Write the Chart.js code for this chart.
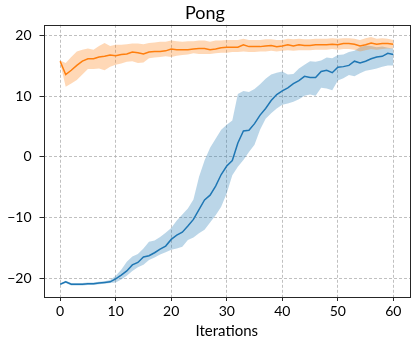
<!DOCTYPE html>
<html>
<head>
<meta charset="utf-8">
<script src="https://cdn.jsdelivr.net/npm/chart.js@4"></script>
<style>
  html, body { margin: 0; padding: 0; background: #fff; }
  #wrap { width: 414px; height: 339px; }
</style>
</head>
<body>
<div id="wrap"><canvas id="pongChart" width="414" height="339"></canvas></div>
<script>
const iterations = [0,1,2,3,4,5,6,7,8,9,10,11,12,13,14,15,16,17,18,19,20,21,22,23,24,25,26,27,28,29,30,
    31,32,33,34,35,36,37,38,39,40,41,42,43,44,45,46,47,48,49,50,51,52,53,54,55,56,57,58,59,60];

const blueMean = [-21.0,-20.6,-21.0,-21.0,-21.0,-20.9,-20.9,-20.8,-20.7,-20.6,-20.1,-19.5,-18.8,-17.8,-17.4,-16.5,
    -16.3,-15.8,-15.2,-14.7,-13.6,-12.9,-12.4,-11.4,-10.3,-8.7,-7.1,-6.3,-4.8,-2.9,-1.5,-0.6,2.3,4.3,4.4,5.5,
    6.9,8.0,9.3,10.3,10.9,11.4,12.1,12.6,13.3,13.1,13.1,14.1,14.3,13.9,14.8,14.9,15.1,15.8,15.5,15.8,16.2,16.5,16.6,17.1,16.9];
const blueUpper = [-20.9,-20.4,-20.8,-20.8,-20.8,-20.7,-20.7,-20.6,-20.5,-20.3,-19.6,-18.6,-17.3,-16.4,-16.0,-15.1,
    -14.0,-13.8,-13.2,-12.5,-11.7,-10.5,-9.5,-8.5,-7.0,-3.3,-0.6,1.5,3.0,4.5,5.3,6.0,10.4,10.9,10.7,11.2,
    12.0,12.9,13.6,13.9,14.1,13.6,13.7,14.6,15.2,15.8,15.7,15.9,16.4,16.3,16.8,16.9,17.3,17.5,18.1,18.4,18.3,18.1,18.2,18.0,17.9];
const blueLower = [-21.1,-20.8,-21.2,-21.2,-21.2,-21.1,-21.1,-21.0,-20.9,-20.8,-20.7,-20.2,-19.6,-18.8,-18.2,-17.8,
    -17.0,-16.6,-16.1,-15.7,-15.3,-15.1,-14.8,-13.7,-13.3,-12.6,-12.0,-10.8,-9.6,-8.2,-6.0,-3.0,-1.6,-0.5,0.8,2.0,
    4.5,6.3,7.2,8.0,8.6,8.8,9.1,9.5,10.1,10.3,10.1,11.4,11.3,11.0,12.6,13.0,13.5,13.3,13.8,14.2,14.4,14.6,14.9,15.1,15.1];

const orangeMean = [15.8,13.6,14.3,15.1,15.8,16.2,16.2,16.5,16.6,16.8,16.7,16.9,17.0,17.3,17.2,17.0,17.3,17.4,17.4,17.5,
    17.8,17.7,17.7,17.7,17.8,17.9,17.9,17.7,17.8,18.0,18.1,18.1,18.1,18.5,18.2,18.2,18.2,18.3,18.4,18.2,
    18.3,18.5,18.3,18.5,18.4,18.4,18.5,18.5,18.5,18.6,18.5,18.7,18.7,18.6,18.3,18.5,18.8,18.6,18.7,18.7,18.6];
const orangeUpper = [15.9,15.5,16.5,17.4,17.7,17.9,17.7,18.3,18.8,18.3,18.5,18.5,18.6,18.7,18.7,18.6,18.8,18.9,19.0,19.0,
    19.2,19.1,19.0,19.1,19.1,19.2,19.2,19.0,19.2,19.2,19.3,19.3,19.3,19.5,19.3,19.3,19.3,19.4,19.4,19.3,
    19.3,19.5,19.4,19.5,19.4,19.4,19.5,19.5,19.5,19.6,19.5,19.6,19.6,19.5,19.3,19.6,19.8,19.5,19.6,19.5,19.3];
const orangeLower = [15.5,11.6,12.1,12.7,13.6,14.5,14.5,14.6,14.3,14.9,15.2,15.4,15.7,15.8,15.5,15.6,16.3,16.4,16.5,16.6,
    16.5,16.7,16.8,16.9,17.1,17.0,17.0,17.0,17.1,17.2,17.2,17.3,17.3,17.4,17.3,17.3,17.4,17.4,17.5,17.4,
    17.5,17.6,17.5,17.6,17.6,17.6,17.7,17.7,17.7,17.8,17.7,17.8,17.8,17.7,17.4,17.6,17.8,17.7,17.8,17.9,17.9];

const xTicks = [0, 10, 20, 30, 40, 50, 60];
const yTicks = [-20, -10, 0, 10, 20];

const FONT = 'Lato, "DejaVu Sans", sans-serif';

function pts(arr) {
    return arr.map((v, i) => ({ x: iterations[i], y: v }));
}

// marco completo del área de dibujo (arriba y derecha incluidos)
const frame = {
    id: 'frame',
    afterDraw(c) {
        const a = c.chartArea, ctx = c.ctx;
        ctx.save();
        ctx.strokeStyle = '#262626';
        ctx.lineWidth = 1;
        ctx.strokeRect(Math.round(a.left) + 0.5, Math.round(a.top) + 0.5,
            Math.round(a.right - a.left) - 1, Math.round(a.bottom - a.top));
        ctx.restore();
    }
};

const line = (data, color, order) => ({
    data: pts(data), borderColor: color, borderWidth: 1.5, pointRadius: 0,
    fill: false, tension: 0, order: order
});
const edge = (data, order) => ({
    data: pts(data), borderWidth: 0, borderColor: 'transparent', pointRadius: 0,
    fill: false, order: order
});
const band = (data, color, order) => ({
    data: pts(data), borderWidth: 0, borderColor: 'transparent', pointRadius: 0,
    fill: '-1', backgroundColor: color, order: order
});

new Chart(document.getElementById('pongChart'), {
    type: 'line',
    data: {
        datasets: [
            edge(blueLower, 6),
            band(blueUpper, 'rgba(31,119,180,0.3)', 5),
            line(blueMean, '#1f77b4', 4),
            edge(orangeLower, 3),
            band(orangeUpper, 'rgba(255,127,14,0.3)', 2),
            line(orangeMean, '#ff7f0e', 1)
        ]
    },
    options: {
        responsive: false,
        animation: false,
        layout: { padding: { left: 0, right: 4, top: 0, bottom: 0 } },
        plugins: {
            legend: { display: false },
            tooltip: { enabled: false },
            title: {
                display: true, text: 'Pong', color: '#000',
                font: { family: FONT, size: 18, weight: 'normal', lineHeight: 1.1 },
                padding: { top: 3, bottom: 2 }
            }
        },
        scales: {
            x: {
                type: 'linear', min: -3, max: 63,
                afterBuildTicks: s => { s.ticks = xTicks.map(v => ({ value: v })); },
                afterFit: s => { s.height = 42; },
                ticks: { color: '#000', font: { family: FONT, size: 14 }, padding: 2, maxRotation: 0 },
                grid: { color: '#b0b0b0', lineWidth: 0.8, tickColor: '#262626', tickLength: 4, tickWidth: 1, tickBorderDash: [] },
                border: { display: false, dash: [3, 2] },
                title: {
                    display: true, text: 'Iterations', color: '#000',
                    font: { family: FONT, size: 15, lineHeight: 1 }, padding: { top: 0, bottom: 0 }
                }
            },
            y: {
                type: 'linear', min: -23.1, max: 21.8,
                afterBuildTicks: s => { s.ticks = yTicks.map(v => ({ value: v })); },
                afterFit: s => { s.width = 43.5; },
                ticks: {
                    color: '#000', font: { family: FONT, size: 14 }, padding: 8,
                    callback: v => (v < 0 ? '\u2212' + Math.abs(v) : String(v))
                },
                grid: { color: '#b0b0b0', lineWidth: 0.8, tickColor: '#262626', tickLength: 4, tickWidth: 1, tickBorderDash: [] },
                border: { display: false, dash: [3, 2] }
            }
        }
    },
    plugins: [frame]
});
</script>
</body>
</html>
